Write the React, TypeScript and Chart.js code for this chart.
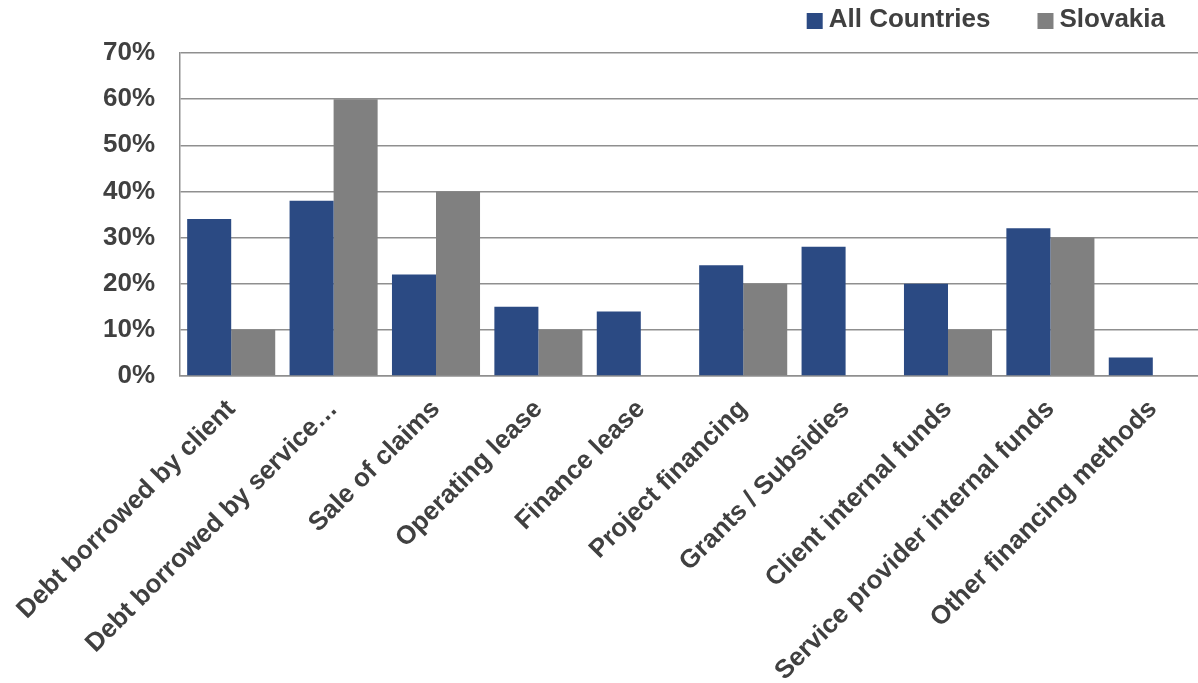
import React, { useEffect, useRef } from "react";
import { Chart, registerables } from "chart.js";

Chart.register(...registerables);

const categories = [
  "Debt borrowed by client",
  "Debt borrowed by service…",
  "Sale of claims",
  "Operating lease",
  "Finance lease",
  "Project financing",
  "Grants / Subsidies",
  "Client internal funds",
  "Service provider internal funds",
  "Other financing methods",
];
const seriesNames = ["All Countries", "Slovakia"];
const allCountries = [34, 38, 22, 15, 14, 24, 28, 20, 32, 4];
const slovakia = [10, 60, 40, 10, 0, 20, 0, 10, 30, 0];
const seriesColors = ["#2B4A83", "#808080"];
const yMin = 0;
const yMax = 70;
const yStep = 10;

const FONT = "'Liberation Sans', Arial, sans-serif";
const TEXT = "#404040";
const GRID = "#8F8F8F";

const legendPlugin = {
  id: "customLegend",
  afterDraw(chart: any) {
    const ctx = chart.ctx;
    ctx.save();
    ctx.font = `bold 26px ${FONT}`;
    ctx.textBaseline = "middle";
    const box = 16;
    const gap = 6;
    const itemGap = 47;
    const items = chart.data.datasets.map((d: any) => ({
      label: d.label,
      color: d.backgroundColor,
      w: box + gap + ctx.measureText(d.label).width,
    }));
    const total = items.reduce((s: number, it: any) => s + it.w, 0) + itemGap * (items.length - 1);
    let x = chart.width - 39 - total;
    const cy = 20;
    for (const it of items) {
      ctx.fillStyle = it.color;
      ctx.fillRect(x, cy - box / 2 + 1, box, box);
      ctx.fillStyle = TEXT;
      ctx.textAlign = "left";
      ctx.fillText(it.label, x + box + gap, cy);
      x += it.w + itemGap;
    }
    ctx.restore();
  },
};

export default function App() {
  const ref = useRef<HTMLCanvasElement | null>(null);

  useEffect(() => {
    document.body.style.margin = "0";
    document.body.style.overflow = "hidden";
    const canvas = ref.current;
    if (!canvas) return;
    const chart = new Chart(canvas, {
      type: "bar",
      data: {
        labels: categories,
        datasets: [
          {
            label: seriesNames[0],
            data: allCountries,
            backgroundColor: seriesColors[0],
            categoryPercentage: 0.86,
            barPercentage: 1.0,
          },
          {
            label: seriesNames[1],
            data: slovakia,
            backgroundColor: seriesColors[1],
            categoryPercentage: 0.86,
            barPercentage: 1.0,
          },
        ],
      },
      options: {
        animation: false,
        responsive: false,
        maintainAspectRatio: false,
        layout: { padding: { top: 53, right: 0, bottom: 0, left: 0 } },
        plugins: {
          legend: { display: false },
          tooltip: { enabled: false },
        },
        scales: {
          x: {
            grid: { display: false, drawTicks: false },
            border: { display: true, color: GRID, width: 1.5 },
            ticks: {
              color: TEXT,
              font: { family: FONT, size: 26, weight: "bold" },
              maxRotation: 45,
              minRotation: 45,
              autoSkip: false,
              padding: 18,
            },
            afterFit: (scale: any) => {
              scale.height = 307;
              scale.paddingLeft = 0;
              scale.paddingRight = 0;
            },
          },
          y: {
            min: yMin,
            max: yMax,
            grid: { color: GRID, lineWidth: 1.5, drawTicks: false },
            border: { display: true, color: GRID, width: 1.5 },
            ticks: {
              stepSize: yStep,
              color: TEXT,
              padding: 25,
              font: { family: FONT, size: 26, weight: "bold" },
              callback: (v: any) => `${v}%`,
            },
            afterFit: (scale: any) => {
              scale.width = 180;
            },
          },
        },
      },
      plugins: [legendPlugin],
    });
    return () => chart.destroy();
  }, []);

  return (
    <div style={{ width: 1198, height: 683, overflow: "hidden", background: "#fff" }}>
      <canvas ref={ref} width={1204} height={683} style={{ display: "block" }} />
    </div>
  );
}
